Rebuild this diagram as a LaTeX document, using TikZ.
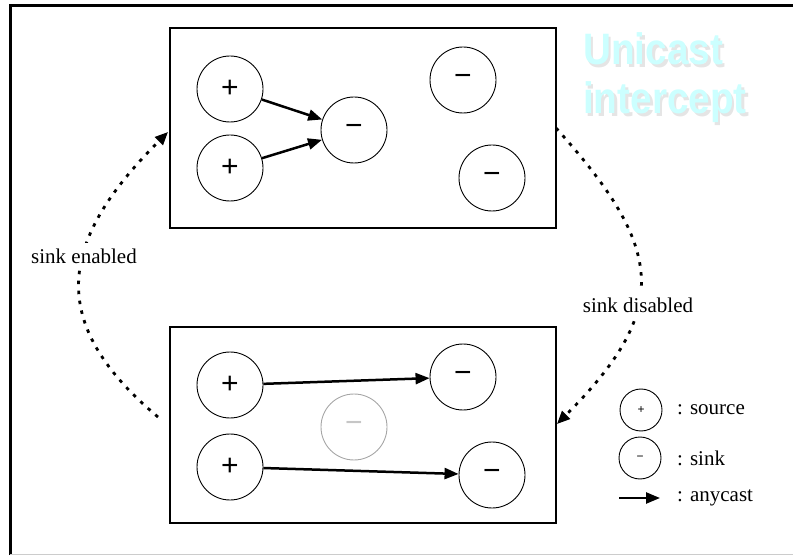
\documentclass[tikz,border=0pt]{standalone}
\usepackage{fontspec}
\setmainfont{Liberation Serif}
\newfontfamily\signfont{Liberation Sans}
\newfontfamily\titlefont[FakeStretch=0.88]{Liberation Sans}
\usetikzlibrary{arrows.meta}
\definecolor{titlecyan}{RGB}{204,255,255}

\tikzset{
  host/.style={circle, draw, line width=0.9pt, minimum size=66pt, inner sep=0pt,
    font=\signfont\fontsize{30}{30}\selectfont},
  keyhost/.style={circle, draw, line width=0.9pt, minimum size=42pt, inner sep=0pt,
    font=\signfont\fontsize{12}{12}\selectfont},
  netbox/.style={draw, line width=1.2pt, minimum width=386pt, inner sep=0pt},
  anycast/.style={line width=2.5pt, -{Triangle[length=14pt,width=11pt]}},
  switchover/.style={line width=2.8pt, dash pattern=on 3.5pt off 6.5pt,
    -{Triangle[length=13pt,width=11pt]}},
  txt/.style={inner sep=1pt, font=\fontsize{21}{25}\selectfont},
  cutout/.style={txt, fill=white, inner xsep=1pt, inner ysep=6pt},
  title/.style={anchor=base west, inner sep=0pt,
    font=\titlefont\bfseries\fontsize{44}{44}\selectfont}
}

\begin{document}
\begin{tikzpicture}[x=1pt,y=1pt]
  \useasboundingbox (0,0) rectangle (793,555);
  % frame
  \draw[line width=3pt] (10,0) -- (10,549) -- (793,549);
  \draw[gray!40] (10,1) -- (793,1);

  % title with its shadow
  \node[title, text=gray!20] at (585.5,487.5) {Unicast};
  \node[title, text=titlecyan] (titleA) at (583,490) {Unicast};
  \node[title, text=gray!20] at (585.5,438.5) {intercept};
  \node[title, text=titlecyan] (titleB) at (583,441) {intercept};

  % sink enabled
  \node[netbox, minimum height=200pt] (topbox) at (363,427) {};
  \node[host] (srcA) at (230,466) {+};
  \node[host] (srcB) at (230,387) {+};
  \node[host] (sinkA) at (354,425) {−};
  \node[host] (sinkB) at (463,475) {−};
  \node[host] (sinkC) at (492,377) {−};
  \draw[anycast] (srcA) -- (sinkA);
  \draw[anycast] (srcB) -- (sinkA);

  % sink disabled
  \node[netbox, minimum height=196pt] (botbox) at (363,130) {};
  \node[host] (srcC) at (230,170) {+};
  \node[host] (srcD) at (230,88) {+};
  \node[host, draw=gray!70, text=gray!45] (sinkOff) at (354,128) {−};
  \node[host] (sinkD) at (463,178) {−};
  \node[host] (sinkE) at (492,80) {−};
  \draw[anycast] (srcC) -- (sinkD);
  \draw[anycast] (srcD) -- (sinkE);

  % transitions
  \coordinate (enFrom) at (158,138);
  \coordinate (enTo) at (168,423);
  \draw[switchover] (enFrom) to[out=140, in=-135, looseness=1.35] (enTo);
  \node[cutout] (enabled) at (84,299) {sink enabled};

  \coordinate (disFrom) at (556,427);
  \coordinate (disTo) at (557,131);
  \draw[switchover] (disFrom) to[out=-48, in=45, looseness=1.4] (disTo);
  \node[cutout] (disabled) at (638,250) {sink disabled};

  % legend
  \node[keyhost] (keySrc) at (641,145) {+};
  \node[txt, anchor=west] (keySrcTxt) at (676,145) {: source};
  \node[keyhost] (keySink) at (640,97) {−};
  \node[txt, anchor=west] (keySinkTxt) at (676,97) {: sink};
  \coordinate (keyFrom) at (619,57);
  \coordinate (keyTo) at (660,57);
  \draw[anycast] (keyFrom) -- (keyTo);
  \node[txt, anchor=west] (keyAnyTxt) at (676,57) {: anycast};
\end{tikzpicture}
\end{document}
